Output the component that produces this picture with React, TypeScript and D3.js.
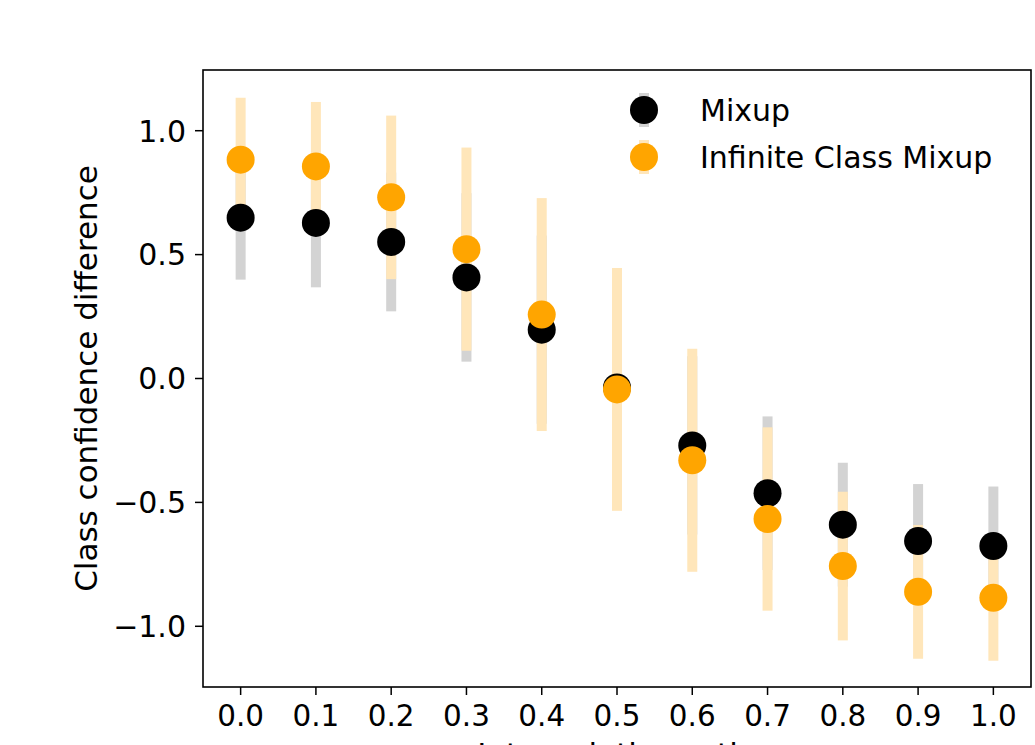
import * as d3 from 'd3';

const ratios = [0.0, 0.1, 0.2, 0.3, 0.4, 0.5, 0.6, 0.7, 0.8, 0.9, 1.0];
const mixupMean = [0.649, 0.628, 0.551, 0.408, 0.197, -0.036, -0.27, -0.463, -0.59, -0.656, -0.676];
const mixupStd = [0.25, 0.26, 0.28, 0.34, 0.38, 0.42, 0.36, 0.31, 0.25, 0.23, 0.24];
const icmMean = [0.883, 0.856, 0.731, 0.522, 0.258, -0.044, -0.33, -0.567, -0.757, -0.861, -0.885];
const icmStd = [0.25, 0.26, 0.33, 0.41, 0.47, 0.49, 0.45, 0.37, 0.3, 0.27, 0.254];
const yTicks = [-1.0, -0.5, 0.0, 0.5, 1.0];
const legendLabels = ['Mixup', 'Infinite Class Mixup'];

const WIDTH = 1035;
const HEIGHT = 745;
const plot = { left: 203, right: 1031, top: 70, bottom: 687 };
const FONT = '"DejaVu Sans", sans-serif';

export default function App() {
    const x = d3.scaleLinear().domain([-0.05, 1.05]).range([plot.left, plot.right]);
    const y = d3.scaleLinear().domain([-1.245, 1.245]).range([plot.bottom, plot.top]);
    const fmt = d3.format('.1f');
    const r = 14;
    const barW = 10;

    const series = [
        { mean: mixupMean, std: mixupStd, dot: '#000000', bar: '#d3d3d3' },
        { mean: icmMean, std: icmStd, dot: '#ffa500', bar: '#ffe6ba' },
    ];

    return (
        <svg
            width={WIDTH}
            height={HEIGHT}
            style={{ position: 'absolute', left: 0, top: 0, display: 'block', background: '#fff' }}
            fontFamily={FONT}
        >
            <rect x={0} y={0} width={WIDTH} height={HEIGHT} fill="#fff" />

            {/* error bars, mixup first so the orange ones sit on top */}
            {series.map((s, si) => (
                <g key={`bars-${si}`}>
                    {ratios.map((rv, i) => (
                        <rect
                            key={i}
                            x={x(rv) - barW / 2}
                            y={y(s.mean[i] + s.std[i])}
                            width={barW}
                            height={y(s.mean[i] - s.std[i]) - y(s.mean[i] + s.std[i])}
                            fill={s.bar}
                        />
                    ))}
                </g>
            ))}

            {series.map((s, si) => (
                <g key={`dots-${si}`}>
                    {ratios.map((rv, i) => (
                        <circle key={i} cx={x(rv)} cy={y(s.mean[i])} r={r} fill={s.dot} />
                    ))}
                </g>
            ))}

            {/* frame */}
            <rect
                x={plot.left}
                y={plot.top}
                width={plot.right - plot.left}
                height={plot.bottom - plot.top}
                fill="none"
                stroke="#000"
                strokeWidth={1.6}
            />

            {/* y axis */}
            {yTicks.map((t) => (
                <g key={t}>
                    <line x1={plot.left - 8} x2={plot.left} y1={y(t)} y2={y(t)} stroke="#000" strokeWidth={1.5} />
                    <text
                        x={plot.left - 17}
                        y={y(t)}
                        dy="0.36em"
                        textAnchor="end"
                        fontSize={30}
                        fill="#000"
                    >
                        {fmt(t)}
                    </text>
                </g>
            ))}

            {/* x axis */}
            {ratios.map((t) => (
                <g key={t} transform={`translate(${x(t)},0)`}>
                    <line y1={plot.bottom} y2={plot.bottom + 8} stroke="#000" strokeWidth={1.5} />
                    <g transform={`translate(0,${plot.bottom + 39}) scale(0.95,1)`}>
                        <text textAnchor="middle" fontSize={31} fill="#000">
                            {fmt(t)}
                        </text>
                    </g>
                </g>
            ))}

            <text
                transform={`translate(97,${(plot.top + plot.bottom) / 2}) rotate(-90)`}
                textAnchor="middle"
                fontSize={31}
                fill="#000"
            >
                Class confidence difference
            </text>

            {/* x label sits mostly below the frame edge, as in the source image */}
            <text x={(plot.left + plot.right) / 2} y={765} textAnchor="middle" fontSize={31} fill="#000">
                Interpolation ratio
            </text>

            {/* legend */}
            {series.map((s, i) => (
                <g key={`leg-${i}`} transform={`translate(644,${110 + i * 47})`}>
                    <rect x={-barW / 2} y={-17} width={barW} height={34} fill={s.bar} />
                    <circle r={r} fill={s.dot} />
                    <text x={56} dy="0.36em" fontSize={30} fill="#000">
                        {legendLabels[i]}
                    </text>
                </g>
            ))}
        </svg>
    );
}
